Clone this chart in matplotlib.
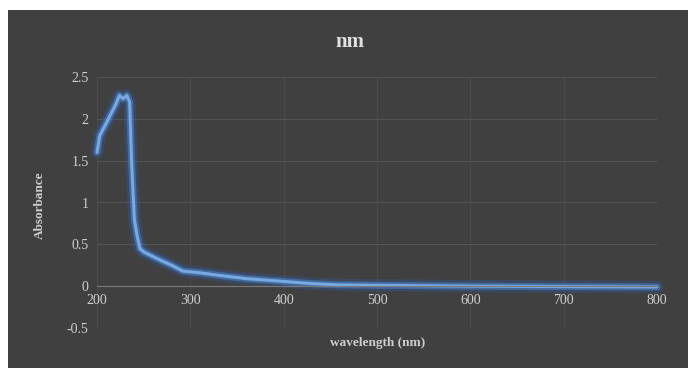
import matplotlib
matplotlib.use('Agg')
import matplotlib.pyplot as plt

# spectrum
wavelength = [200, 203, 210, 220, 224, 228, 232, 235, 237, 240, 243, 246, 250, 257, 270, 280, 292, 310, 330, 360, 396, 430, 460, 500, 550, 600, 700, 800]
absorbance = [1.6, 1.8, 1.95, 2.17, 2.28, 2.24, 2.28, 2.2, 1.5, 0.8, 0.6, 0.45, 0.41, 0.37, 0.3, 0.25, 0.18, 0.16, 0.13, 0.09, 0.06, 0.03, 0.015, 0.01, 0.005, 0.0, -0.005, -0.01]
xticks = [200, 300, 400, 500, 600, 700, 800]
yticks = [-0.5, 0, 0.5, 1, 1.5, 2, 2.5]
ytick_labels = ['-0.5', '0', '0.5', '1', '1.5', '2', '2.5']

bg = '#404040'
txt = '#cfcfcf'

fig = plt.figure(figsize=(6.88, 3.68), dpi=100, facecolor='white')
# dark chart area with thin white strip top/left
bgax = fig.add_axes([8 / 688, 0, 1 - 8 / 688, 1 - 10 / 368])
bgax.set_facecolor(bg)
bgax.set_xticks([])
bgax.set_yticks([])
for s in bgax.spines.values():
    s.set_visible(False)

ax = fig.add_axes([97 / 688, 1 - 328 / 368, (657 - 97) / 688, (328 - 77) / 368])
ax.patch.set_alpha(0)

ax.set_xlim(200, 800)
ax.set_ylim(-0.5, 2.5)
ax.set_xticks(xticks)
ax.set_yticks(yticks)
ax.set_yticklabels(ytick_labels)
ax.grid(True, axis='y', color='#545454', linewidth=0.8)
ax.grid(True, axis='x', color='#4a4a4a', linewidth=0.8)
ax.set_axisbelow(True)

for s in ['top', 'right', 'left']:
    ax.spines[s].set_visible(False)
ax.spines['bottom'].set_position(('data', 0))
ax.spines['bottom'].set_color('#7a7a7a')
ax.tick_params(length=0, colors=txt, labelsize=10, pad=6)
for lab in ax.get_xticklabels() + ax.get_yticklabels():
    lab.set_family('Liberation Serif')

# glow then the line itself
ax.plot(wavelength, absorbance, color='#2f5fb0', linewidth=9, alpha=0.3, solid_capstyle='round', clip_on=False)
ax.plot(wavelength, absorbance, color='#4a86d0', linewidth=5, alpha=0.55, solid_capstyle='round', clip_on=False)
ax.plot(wavelength, absorbance, color='#78a9e2', linewidth=2.2, solid_capstyle='round', clip_on=False)

fig.text(350 / 688, 1 - 42 / 368, 'nm', ha='center', va='center', color='#e0e0e0',
         fontsize=15, fontweight='bold', family='Liberation Serif')
fig.text(378 / 688, 1 - 343 / 368, 'wavelength (nm)', ha='center', va='center', color=txt,
         fontsize=9.5, fontweight='bold', family='Liberation Serif')
fig.text(40 / 688, 1 - 205 / 368, 'Absorbance', ha='center', va='center', color=txt,
         fontsize=9.5, fontweight='bold', family='Liberation Serif', rotation=90)

fig.savefig('out.png', dpi=100, facecolor='white')
